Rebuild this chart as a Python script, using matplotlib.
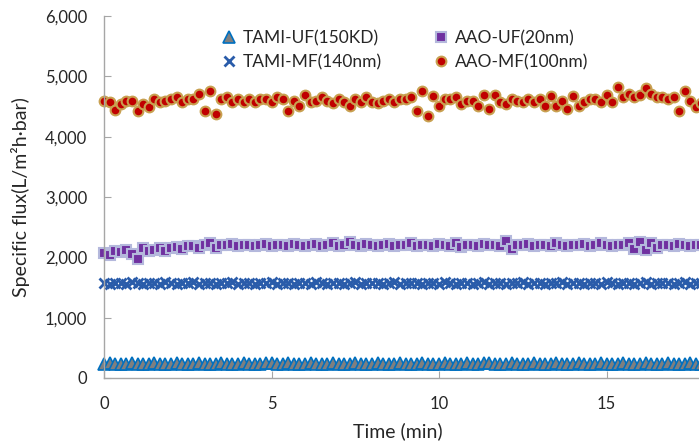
import numpy as np
import matplotlib
matplotlib.use("Agg")
import matplotlib.pyplot as plt
from matplotlib.ticker import FuncFormatter

plt.rcParams['font.family'] = ['Lato', 'DejaVu Sans']

# time step 10 s -> 1/6 min
step = 1.0 / 6.0

aao_mf = [4590, 4580, 4450, 4540, 4590, 4590, 4425, 4540, 4500, 4620,
          4570, 4590, 4620, 4660, 4570, 4620, 4620, 4710, 4425, 4760,
          4380, 4620, 4660, 4570, 4620, 4580, 4620, 4580, 4620, 4620,
          4580, 4650, 4620, 4425, 4590, 4510, 4690, 4580, 4590, 4650,
          4590, 4550, 4620, 4580, 4510, 4620, 4580, 4660, 4580, 4550,
          4590, 4620, 4580, 4620, 4620, 4660, 4425, 4750, 4350, 4680,
          4510, 4620, 4620, 4650, 4540, 4590, 4590, 4510, 4690, 4460,
          4690, 4580, 4540, 4630, 4590, 4580, 4620, 4580, 4620, 4510,
          4680, 4510, 4590, 4460, 4680, 4510, 4580, 4620, 4620, 4570,
          4690, 4570, 4830, 4650, 4710, 4650, 4690, 4810, 4710, 4650,
          4650, 4620, 4650, 4425, 4760, 4590, 4500, 4560]

aao_uf = [2070, 2040, 2100, 2090, 2120, 2060, 1980, 2150, 2100, 2120,
          2150, 2110, 2160, 2170, 2140, 2180, 2190, 2160, 2200, 2230,
          2150, 2210, 2200, 2220, 2190, 2200, 2210, 2180, 2200, 2220,
          2190, 2210, 2200, 2180, 2220, 2210, 2190, 2200, 2220, 2180,
          2200, 2230, 2190, 2210, 2250, 2200, 2180, 2220, 2210, 2190,
          2200, 2220, 2180, 2210, 2200, 2230, 2190, 2200, 2210, 2180,
          2220, 2200, 2190, 2240, 2170, 2210, 2200, 2190, 2220, 2200,
          2210, 2180, 2270, 2140, 2210, 2200, 2220, 2190, 2200, 2210,
          2180, 2230, 2200, 2190, 2210, 2200, 2220, 2190, 2210, 2240,
          2200, 2180, 2210, 2200, 2240, 2130, 2250, 2120, 2240, 2150,
          2200, 2210, 2190, 2220, 2200, 2180, 2210, 2200]

tami_mf = [1570, 1560, 1580, 1570, 1565, 1585, 1570, 1560, 1575, 1580,
           1565, 1590, 1570, 1560, 1575, 1570, 1585, 1565, 1570, 1580,
           1560, 1575, 1570, 1590, 1565, 1570, 1580, 1560, 1575, 1570,
           1585, 1565, 1570, 1575, 1560, 1580, 1570, 1565, 1585, 1570,
           1560, 1575, 1580, 1565, 1570, 1590, 1560, 1575, 1570, 1580,
           1565, 1570, 1585, 1560, 1575, 1570, 1580, 1565, 1570, 1575,
           1560, 1585, 1570, 1565, 1580, 1570, 1560, 1575, 1585, 1565,
           1570, 1580, 1560, 1575, 1570, 1590, 1565, 1570, 1580, 1560,
           1575, 1570, 1585, 1565, 1570, 1575, 1560, 1580, 1570, 1565,
           1585, 1570, 1560, 1575, 1580, 1565, 1570, 1590, 1560, 1575,
           1570, 1580, 1565, 1570, 1585, 1560, 1575, 1570]

tami_uf = [240, 245, 235, 240, 230, 245, 240, 235, 240, 245,
           235, 230, 240, 245, 235, 240, 230, 245, 240, 235,
           240, 245, 235, 240, 230, 245, 240, 235, 240, 245,
           250, 230, 240, 245, 235, 240, 230, 245, 240, 235,
           240, 245, 235, 240, 230, 245, 240, 235, 240, 245,
           235, 230, 240, 245, 235, 240, 230, 245, 240, 235,
           240, 245, 235, 240, 230, 245, 240, 235, 250, 245,
           235, 230, 240, 245, 235, 240, 230, 245, 240, 235,
           240, 245, 235, 240, 230, 245, 240, 235, 240, 245,
           235, 230, 240, 245, 235, 240, 230, 245, 240, 235,
           240, 245, 235, 240, 230, 245, 240, 235]

t = np.arange(len(aao_mf)) * step

fig = plt.figure(figsize=(6.99, 4.45), dpi=100)
# plot area runs off the right edge of the picture (xlim 0..20)
ax = fig.add_axes([104/699, 1-378/445, 670/699, (378-16)/445])

txt = '#262626'
ax.plot(t, tami_uf, ls='none', marker='^', ms=9, mfc='#7F7F7F', mec='#0070C0', mew=1.2,
        clip_on=False, label='TAMI-UF(150KD)')
ax.plot(t, tami_mf, ls='none', marker='x', ms=7, mec='#2A5CAA', mew=2.0,
        clip_on=False, label='TAMI-MF(140nm)')
ax.plot(t, aao_uf, ls='none', marker='s', ms=7.5, mfc='#7030A0', mec='#B4B8DC', mew=1.5,
        clip_on=False, label='AAO-UF(20nm)')
ax.plot(t, aao_mf, ls='none', marker='o', ms=7, mfc='#C00000', mec='#C8A050', mew=1.5,
        clip_on=False, label='AAO-MF(100nm)')

ax.set_xlim(0, 20)
ax.set_ylim(0, 6000)
ax.set_xticks([0, 5, 10, 15])
ax.set_yticks(np.arange(0, 6001, 1000))
ax.yaxis.set_major_formatter(FuncFormatter(lambda v, p: '{:,.0f}'.format(v)))

for s in ['top', 'right']:
    ax.spines[s].set_visible(False)
for s in ['left', 'bottom']:
    ax.spines[s].set_color('#A6A6A6')
    ax.spines[s].set_linewidth(1.0)

ax.tick_params(axis='both', direction='in', length=5, color='#A6A6A6',
               labelsize=12, labelcolor=txt)
ax.tick_params(axis='x', pad=13)
ax.tick_params(axis='y', pad=12)

ax.set_xlabel('Time (min)', fontsize=14, color=txt)
ax.xaxis.set_label_coords((398-104)/670, (378-422)/362)
ax.set_ylabel('Specific flux(L/m²h·bar)', fontsize=14, color=txt)
ax.yaxis.set_label_coords((30-104)/670, 0.5)

leg = ax.legend(ncol=2, loc='upper left', bbox_to_anchor=(220/699, 1-30/445),
                bbox_transform=fig.transFigure, frameon=False, fontsize=12.5,
                handlelength=1.0, handletextpad=0.3, columnspacing=2.9,
                labelspacing=0.45, borderpad=0, borderaxespad=0)
for tx in leg.get_texts():
    tx.set_color(txt)

fig.savefig('out.png', dpi=100)
